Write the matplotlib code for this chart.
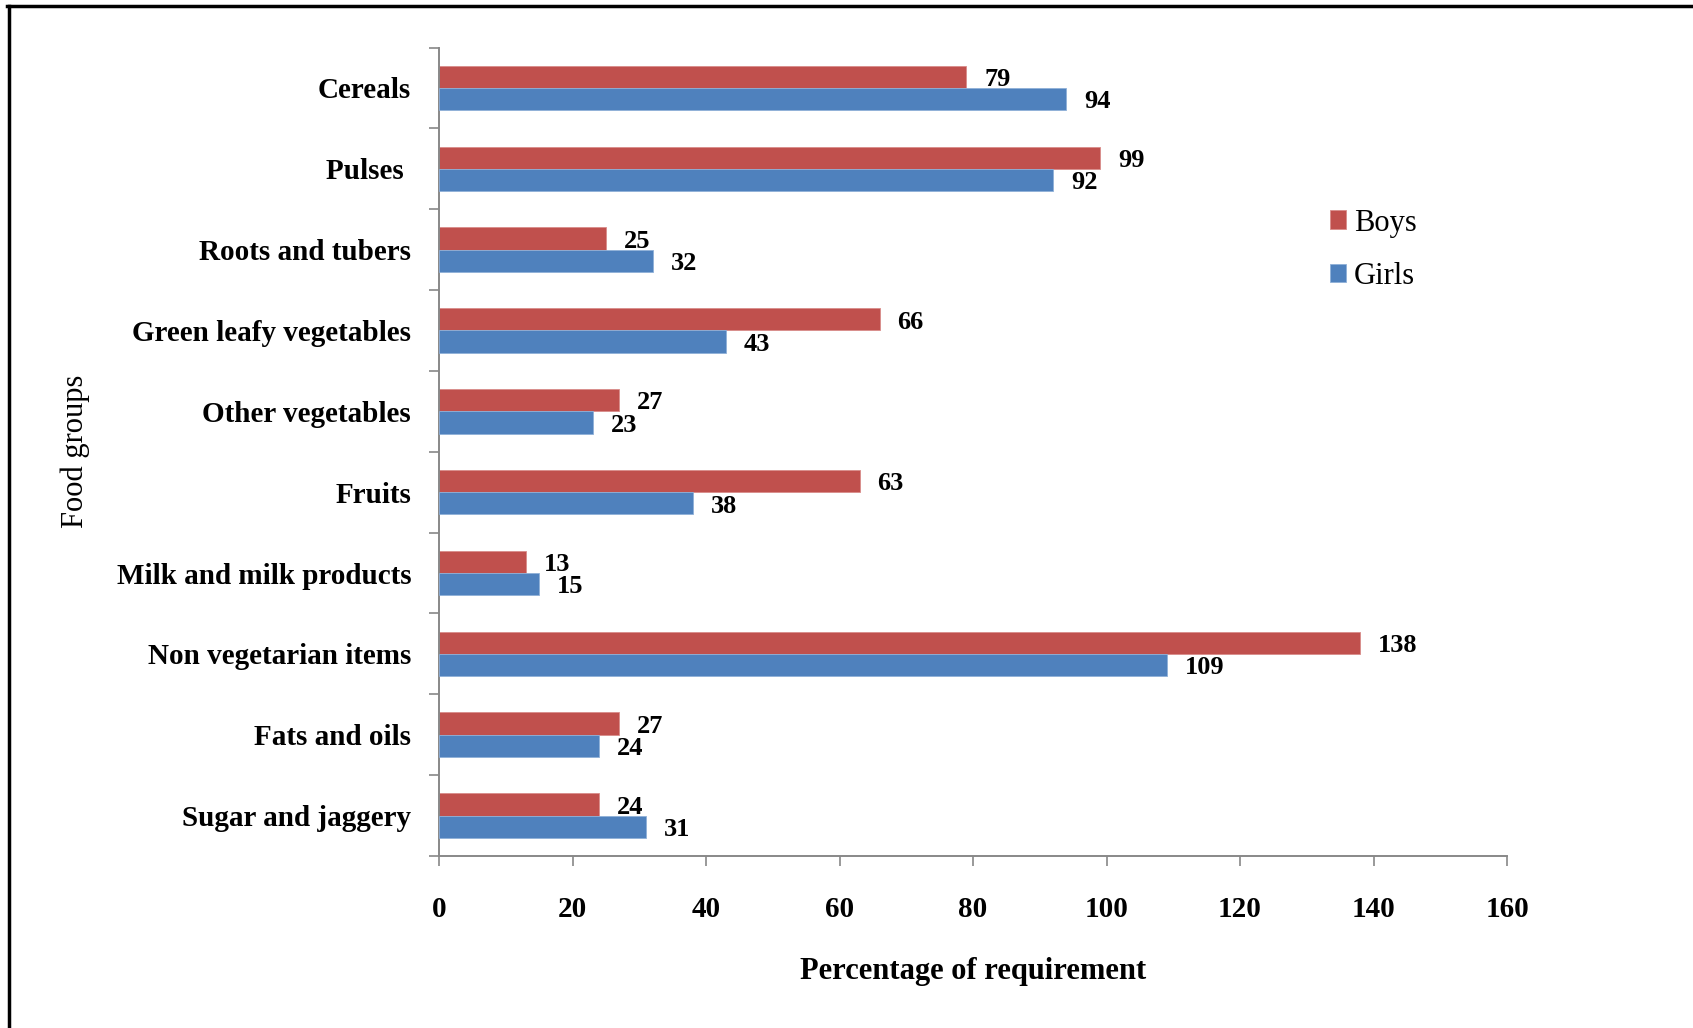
import matplotlib
matplotlib.use("Agg")
import matplotlib.pyplot as plt
from matplotlib.lines import Line2D
import numpy as np

plt.rcParams['font.family'] = ['Liberation Serif', 'DejaVu Serif']

categories = ["Cereals", "Pulses ", "Roots and tubers", "Green leafy vegetables",
              "Other vegetables", "Fruits", "Milk and milk products",
              "Non vegetarian items", "Fats and oils", "Sugar and jaggery"]
boys = [79, 99, 25, 66, 27, 63, 13, 138, 27, 24]
girls = [94, 92, 32, 43, 23, 38, 15, 109, 24, 31]
x_ticks = [0, 20, 40, 60, 80, 100, 120, 140, 160]

RED = "#C0504D"
BLUE = "#4F81BD"

W, H = 1693, 1028
fig = plt.figure(figsize=(W / 100, H / 100), dpi=100)
ax = fig.add_axes([439 / W, 1 - 856 / H, (1507 - 439) / W, (856 - 47.5) / H])

y = np.arange(len(categories))
bh = 0.275
b1 = ax.barh(y - bh / 2, boys, height=bh, color=RED, edgecolor="#D98C8A",
             linewidth=0.6, label="Boys", zorder=2)
b2 = ax.barh(y + bh / 2, girls, height=bh, color=BLUE, edgecolor="#8FB0D8",
             linewidth=0.6, label="Girls", zorder=3)

for yy, v in zip(y - bh / 2, boys):
    ax.annotate(str(v), (v, yy), xytext=(13, -2), textcoords="offset points",
                ha="left", va="center", fontsize=19, fontweight="bold", zorder=2.5)
for yy, v in zip(y + bh / 2, girls):
    ax.annotate(str(v), (v, yy), xytext=(13, -2), textcoords="offset points",
                ha="left", va="center", fontsize=19, fontweight="bold", zorder=3.5)

ax.set_xlim(0, 160)
ax.set_ylim(len(categories) - 0.5, -0.5)
ax.set_xticks(x_ticks)
ax.set_xticklabels([str(t) for t in x_ticks], fontsize=21, fontweight="bold")
ax.set_yticks(y)
ax.set_yticklabels(categories, fontsize=21, fontweight="bold")
ax.set_yticks(np.arange(len(categories) + 1) - 0.5, minor=True)
ax.tick_params(axis="y", which="major", length=0, pad=20)
ax.tick_params(axis="y", which="minor", length=7, width=1.2, color="#888888")
ax.tick_params(axis="x", which="major", length=7, width=1.2, color="#888888", pad=22)

for s in ("top", "right"):
    ax.spines[s].set_visible(False)
for s in ("left", "bottom"):
    ax.spines[s].set_color("#888888")
    ax.spines[s].set_linewidth(1.4)

ax.set_xlabel("Percentage of requirement", fontsize=22, fontweight="bold")
ax.set_ylabel("Food groups", fontsize=22)
ax.yaxis.set_label_coords(-(439 - 90) / (1507 - 439), 0.5)
ax.xaxis.set_label_coords(0.5, -(957 - 856) / (856 - 47.5))

leg = ax.legend(handles=[b1, b2], loc="upper left",
                bbox_to_anchor=(1302 / W, 1 - 181 / H), bbox_transform=fig.transFigure,
                frameon=False, fontsize=22, handlelength=0.55, handleheight=0.55,
                handletextpad=0.25, labelspacing=0.8)

# Outer frame along the top and left edges
fig.add_artist(Line2D([7 / W, 1], [1 - 6 / H, 1 - 6 / H], transform=fig.transFigure,
                      color="black", linewidth=2.5))
fig.add_artist(Line2D([9 / W, 9 / W], [0, 1 - 6 / H], transform=fig.transFigure,
                      color="black", linewidth=2.5))

fig.savefig("out.png", dpi=100, facecolor="white")
